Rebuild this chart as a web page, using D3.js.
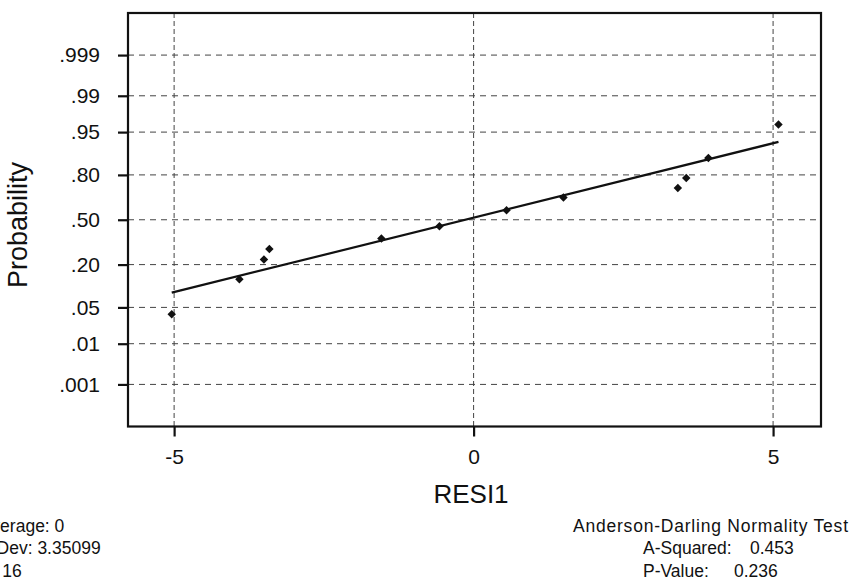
<!DOCTYPE html>
<html lang="en">
<head>
<meta charset="utf-8">
<title>Normal Probability Plot</title>
<script src="https://cdn.jsdelivr.net/npm/d3@7"></script>
<style>
  body { margin: 0; background: #fff; }
  svg text { font-family: "Liberation Sans", Arial, sans-serif; fill: #111; }
  .axis text { font-size: 21px; }
  .axis line { stroke: #111; stroke-width: 2.2; }
  .axis path { display: none; }
  .grid line { stroke: #444; stroke-width: 1; }
  .stats text { font-size: 17.5px; }
</style>
</head>
<body>
<svg width="852" height="580"></svg>
<script>
// residuals (x) and plotted probabilities (y)
var resid = [-5.04, -3.91, -3.50, -3.41, -1.54, -0.57, 0.55, 1.50, 3.41, 3.55, 3.92, 5.09];
var prob  = [0.0381, 0.1322, 0.2275, 0.2919, 0.3621, 0.4514, 0.5706, 0.6617, 0.7247, 0.7835, 0.8768, 0.9630];

// fitted line (normal cdf) as drawn
var lineMean = -0.14;
var lineSd = 3.58;

var probTicks  = [0.001, 0.01, 0.05, 0.20, 0.50, 0.80, 0.95, 0.99, 0.999];
var probLabels = [".001", ".01", ".05", ".20", ".50", ".80", ".95", ".99", ".999"];
var xTicks = [-5, 0, 5];

var statsLeft  = ["Average: 0", "StDev: 3.35099", "N: 16"];
var statsTitle = "Anderson-Darling Normality Test";
var statsRight = [["A-Squared:", "0.453"], ["P-Value:", "0.236"]];

// inverse normal cdf (Acklam)
function probit(p) {
  var a = [-39.69683028665376, 220.9460984245205, -275.9285104469687, 138.3577518672690, -30.66479806614716, 2.506628277459239];
  var b = [-54.47609879822406, 161.5858368580409, -155.6989798598866, 66.80131188771972, -13.28068155288572];
  var c = [-0.007784894002430293, -0.3223964580411365, -2.400758277161838, -2.549732539343734, 4.374664141464968, 2.938163982698783];
  var d = [0.007784695709041462, 0.3224671290700398, 2.445134137142996, 3.754408661907416];
  var q, r;
  if (p < 0.02425) {
    q = Math.sqrt(-2 * Math.log(p));
    return (((((c[0]*q+c[1])*q+c[2])*q+c[3])*q+c[4])*q+c[5]) / ((((d[0]*q+d[1])*q+d[2])*q+d[3])*q+1);
  } else if (p > 1 - 0.02425) {
    q = Math.sqrt(-2 * Math.log(1 - p));
    return -(((((c[0]*q+c[1])*q+c[2])*q+c[3])*q+c[4])*q+c[5]) / ((((d[0]*q+d[1])*q+d[2])*q+d[3])*q+1);
  }
  q = p - 0.5; r = q * q;
  return (((((a[0]*r+a[1])*r+a[2])*r+a[3])*r+a[4])*r+a[5])*q / (((((b[0]*r+b[1])*r+b[2])*r+b[3])*r+b[4])*r+1);
}

var svg = d3.select("svg");
var pLeft = 128, pRight = 821, pTop = 13, pBottom = 426.5;

var x = d3.scaleLinear().domain([-5.77, 5.80]).range([pLeft, pRight]);
var yz = d3.scaleLinear().domain([-3.88, 3.88]).range([pBottom, pTop]);

// grid
var grid = svg.append("g").attr("class", "grid");
grid.selectAll(".h").data(probTicks).enter().append("line")
  .attr("x1", pLeft).attr("x2", pRight)
  .attr("y1", function(d) { return yz(probit(d)); })
  .attr("y2", function(d) { return yz(probit(d)); })
  .attr("stroke-dasharray", "6,5");
grid.selectAll(".v").data(xTicks).enter().append("line")
  .attr("y1", pTop).attr("y2", pBottom)
  .attr("x1", function(d) { return x(d); })
  .attr("x2", function(d) { return x(d); })
  .attr("stroke-dasharray", "5,3");

// axes
svg.append("g").attr("class", "axis")
  .attr("transform", "translate(" + pLeft + ",0)")
  .call(d3.axisLeft(yz).tickValues(probTicks.map(probit))
    .tickFormat(function(d, i) { return probLabels[i]; })
    .tickSize(10).tickPadding(18));

svg.append("g").attr("class", "axis")
  .attr("transform", "translate(0," + pBottom + ")")
  .call(d3.axisBottom(x).tickValues(xTicks).tickFormat(function(d) { return String(d); })
    .tickSize(10).tickPadding(13));

svg.selectAll(".axis text").attr("fill", "#111").attr("font-family", null).attr("font-size", null);

// frame
svg.append("rect")
  .attr("x", pLeft).attr("y", pTop)
  .attr("width", pRight - pLeft).attr("height", pBottom - pTop)
  .attr("fill", "none").attr("stroke", "#111").attr("stroke-width", 2.2);

// fitted line across the data range
var xr = d3.extent(resid);
svg.append("line")
  .attr("x1", x(xr[0])).attr("y1", yz((xr[0] - lineMean) / lineSd))
  .attr("x2", x(xr[1])).attr("y2", yz((xr[1] - lineMean) / lineSd))
  .attr("stroke", "#111").attr("stroke-width", 2.2);

// points
var sym = d3.symbol().type(d3.symbolSquare).size(36);
svg.selectAll(".pt").data(resid).enter().append("path")
  .attr("class", "pt")
  .attr("d", sym)
  .attr("fill", "#111")
  .attr("transform", function(d, i) {
    return "translate(" + x(d) + "," + yz(probit(prob[i])) + ") rotate(45)";
  });

// axis titles
svg.append("text")
  .attr("transform", "translate(27,225) rotate(-90)")
  .attr("text-anchor", "middle")
  .attr("font-size", 27)
  .text("Probability");

svg.append("text")
  .attr("x", 471).attr("y", 503)
  .attr("text-anchor", "middle")
  .attr("font-size", 26)
  .text("RESI1");

// stats
var st = svg.append("g").attr("class", "stats");
st.selectAll(".l").data(statsLeft).enter().append("text")
  .attr("x", -20)
  .attr("y", function(d, i) { return [532, 554, 577][i]; })
  .text(function(d) { return d; });

st.append("text").attr("x", 573).attr("y", 532)
  .attr("textLength", 275).attr("lengthAdjust", "spacing")
  .text(statsTitle);

statsRight.forEach(function(r, i) {
  var yy = [554, 577][i];
  st.append("text").attr("x", 643).attr("y", yy).attr("font-size", 18.5).text(r[0]);
  st.append("text").attr("x", i === 0 ? 750 : 734).attr("y", yy).attr("font-size", 18.5).text(r[1]);
});
</script>
</body>
</html>
